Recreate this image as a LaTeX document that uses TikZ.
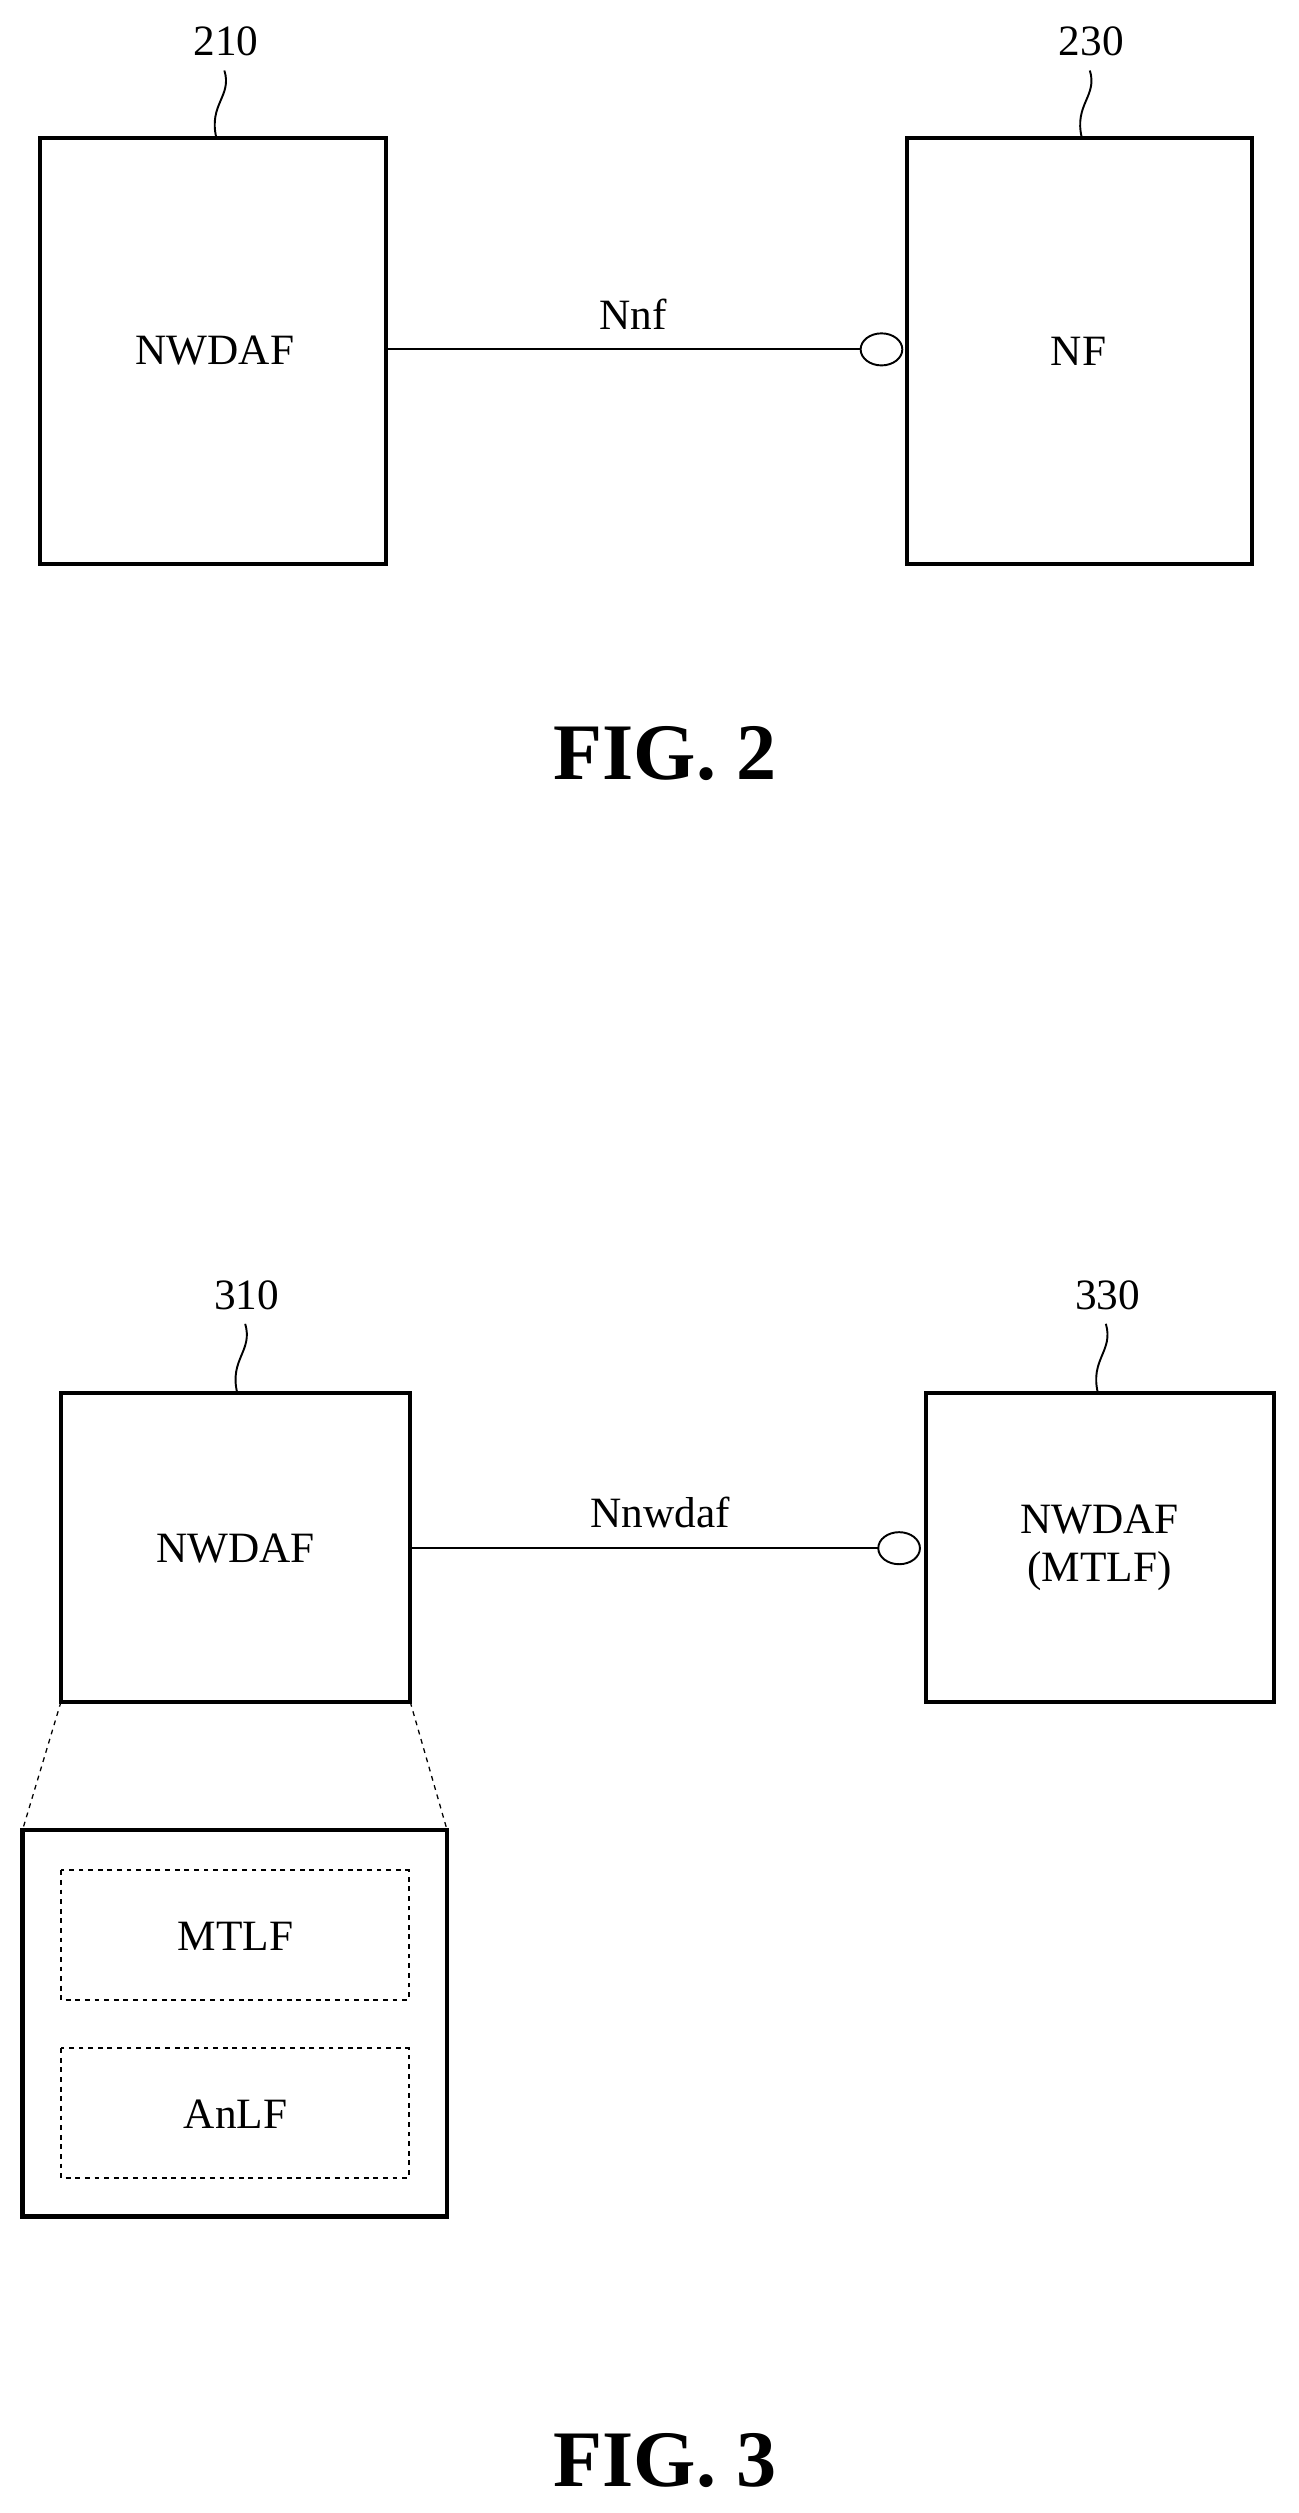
\documentclass[tikz,border=0pt]{standalone}
\usepackage{fontspec}
\setmainfont{Liberation Serif}
\begin{document}
\begin{tikzpicture}[x=1pt,y=-1pt,
  box/.style={draw,line width=2.6pt,inner sep=0pt},
  lbl/.style={font=\fontsize{27}{30}\selectfont},
  fig/.style={font=\fontsize{50}{56}\selectfont\bfseries},
  conn/.style={line width=1.2pt},
  dbox/.style={draw,dashed,line width=1.1pt}]
\useasboundingbox (0,0) rectangle (810,1568);
% FIG 2
\draw[box] (25,86) rectangle (241,352);
\node[lbl] (n210) at (134,219) {NWDAF};
\draw[box] (566,86) rectangle (781,352);
\node[lbl] (nf) at (673,219) {NF};
\node[lbl] (l210) at (141,26) {210};
\node[lbl] (l230) at (681,26) {230};
\draw[conn] (135,86) .. controls (130,65) and (145,60) .. (140,44);
\draw[conn] (675,86) .. controls (670,65) and (685,60) .. (680,44);
\draw[conn] (241,218) -- (537,218);
\draw[conn,fill=white] (550,218) ellipse (13 and 10);
\node[lbl] (nnf) at (395,196) {Nnf};
\node[fig] (f2) at (415,470) {FIG. 2};
% FIG 3
\draw[box] (38,869) rectangle (256,1062);
\node[lbl] at (147,966) {NWDAF};
\draw[box] (578,869) rectangle (795,1062);
\node[lbl,align=center] at (686,966) {NWDAF\\(MTLF)};
\node[lbl] at (154,808) {310};
\node[lbl] at (691,808) {330};
\draw[conn] (148,869) .. controls (143,848) and (158,843) .. (153,826);
\draw[conn] (685,869) .. controls (680,848) and (695,843) .. (690,826);
\draw[conn] (256,966) -- (548,966);
\draw[conn,fill=white] (561,966) ellipse (13 and 10);
\node[lbl] at (412,944) {Nnwdaf};
\draw[dashed,line width=0.8pt] (38,1062) -- (14,1142);
\draw[dashed,line width=0.8pt] (256,1062) -- (279,1142);
\draw[box] (14,1142) rectangle (279,1383);
\draw[dbox] (38,1167) rectangle (255,1248);
\node[lbl] at (147,1208) {MTLF};
\draw[dbox] (38,1278) rectangle (255,1359);
\node[lbl] at (147,1319) {AnLF};
\node[fig] at (415,1535) {FIG. 3};
\end{tikzpicture}
\end{document}
